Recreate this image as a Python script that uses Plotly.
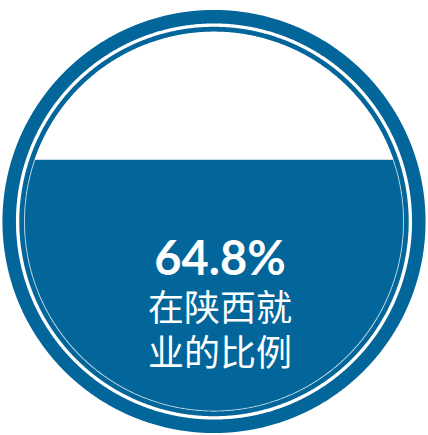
import numpy as np
import plotly.graph_objects as go

# ---- data ----
value_pct = [64.8]
value_labels = ["64.8%"]
caption_lines = ["在陕西就", "业的比例"]

# ---- style / geometry (pixel space) ----
W, H = 428, 435
CX, CY = 214, 221.5
BLUE = "#03669A"
R_OUTER_MID, OUTER_W = 204.8, 13.5
R_INNER_MID, INNER_W = 192.3, 4.8
R_FILL = 189.0
R_SCALE_TOP = 197.5  # top of the level scale (inner edge of outer ring)

def circle(r, n=1441):
    t = np.linspace(0, 2 * np.pi, n)
    return CX + r * np.cos(t), CY + r * np.sin(t)

fig = go.Figure()

# outer thick ring
x, y = circle(R_OUTER_MID)
fig.add_trace(go.Scatter(x=x, y=y, mode="lines",
                         line=dict(color=BLUE, width=OUTER_W, simplify=False),
                         hoverinfo="skip", showlegend=False))
# inner thin ring
x, y = circle(R_INNER_MID)
fig.add_trace(go.Scatter(x=x, y=y, mode="lines",
                         line=dict(color=BLUE, width=INNER_W, simplify=False),
                         hoverinfo="skip", showlegend=False))

# liquid fill: level from value through a linear scale
bottom = CY + R_FILL
top = CY - R_SCALE_TOP
level_y = bottom - value_pct[0] / 100.0 * (bottom - top)
dy = level_y - CY
ang0 = np.arcsin(np.clip(dy / R_FILL, -1, 1))
t = np.linspace(ang0, np.pi - ang0, 600)
fx = CX + R_FILL * np.cos(t)
fy = CY + R_FILL * np.sin(t)
fx = np.append(fx, fx[0])
fy = np.append(fy, fy[0])
fig.add_trace(go.Scatter(x=fx, y=fy, mode="lines", fill="toself",
                         fillcolor=BLUE, line=dict(color=BLUE, width=0.5, simplify=False),
                         hoverinfo="skip", showlegend=False))

# texts (one block so lines stack cleanly)
num = ("<span style='font-family:Lato, Open Sans, sans-serif;font-size:47px'><b>"
       + value_labels[0] + "</b></span>")
caps = ["<span style='font-size:36px'>" + s + "</span>" for s in caption_lines]
fig.add_annotation(x=CX + 6, y=302, xref="x", yref="y",
                   text="<br>".join([num] + caps), align="center",
                   showarrow=False, yanchor="middle",
                   font=dict(family="Noto Sans CJK SC, sans-serif", size=35, color="white"))

fig.update_layout(
    width=W, height=H, margin=dict(l=0, r=0, t=0, b=0),
    paper_bgcolor="white", plot_bgcolor="white",
    xaxis=dict(range=[0, W], visible=False, fixedrange=True),
    yaxis=dict(range=[H, 0], visible=False, fixedrange=True),
)
fig.write_html("out.html", config={"displayModeBar": False},
               post_script="document.body.style.margin='0';document.body.style.overflow='hidden';")
